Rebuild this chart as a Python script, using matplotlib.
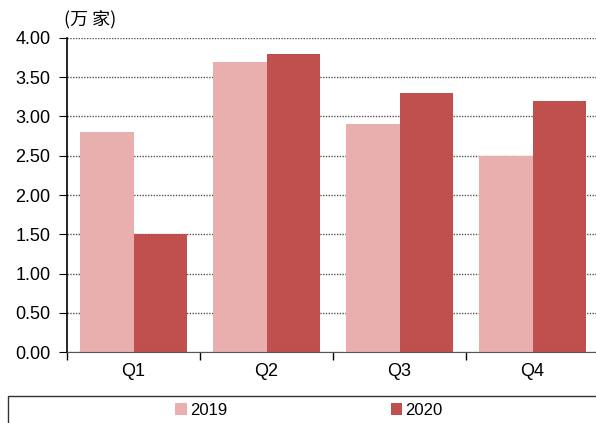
import matplotlib.pyplot as plt
import matplotlib.patches as mpatches
import numpy as np

quarters = ["Q1", "Q2", "Q3", "Q4"]
series_names = ["2019", "2020"]
values_2019 = [2.80, 3.70, 2.90, 2.50]
values_2020 = [1.50, 3.80, 3.30, 3.20]
y_ticks = [0.0, 0.5, 1.0, 1.5, 2.0, 2.5, 3.0, 3.5, 4.0]

plt.rcParams['font.family'] = ['Liberation Sans Narrow', 'Liberation Sans', 'DejaVu Sans']

fig = plt.figure(figsize=(5.96, 4.23), dpi=100)
ax = fig.add_axes([67 / 596, 1 - 352 / 423, 532 / 596, 314 / 423])

x = np.arange(len(quarters))
w = 0.4
ax.bar(x - w / 2, values_2019, w, color="#E8AFAE", label=series_names[0], zorder=2)
ax.bar(x + w / 2, values_2020, w, color="#C0504D", label=series_names[1], zorder=2)

ax.set_xlim(-0.5, len(quarters) - 0.5)
ax.set_ylim(0, 4)
ax.set_yticks(y_ticks)
ax.set_yticklabels([f"{v:.2f}" for v in y_ticks])
ax.yaxis.grid(True, linestyle=(0, (1, 1)), color="#555555", linewidth=1.0, zorder=0)
ax.set_axisbelow(True)

# category boundaries carry the ticks, labels sit in the middle
ax.set_xticks(np.arange(-0.5, len(quarters), 1.0))
ax.set_xticklabels([])
ax.set_xticks(x, minor=True)
ax.set_xticklabels(quarters, minor=True)
ax.tick_params(axis="x", which="minor", length=0, labelsize=13, pad=8)
ax.tick_params(axis="x", which="major", length=6, direction="out", width=1)
ax.tick_params(axis="y", length=6, direction="out", labelsize=13, pad=6)

for side in ["top", "right"]:
    ax.spines[side].set_visible(False)
ax.spines["left"].set_linewidth(1.2)
ax.spines["bottom"].set_color("#555555")

fig.text(64 / 596, 1 - 20 / 423, "(万 家)", fontsize=13,
         family=['Noto Sans CJK SC', 'DejaVu Sans'], va="center", ha="left")

# legend box across the bottom
fig.patches.append(mpatches.Rectangle((8 / 596, -0.02), 1.0, 1 - 396 / 423 + 0.02,
                                      transform=fig.transFigure, fill=False,
                                      edgecolor="#333333", linewidth=1.0))
fig.legend(loc="center left", bbox_to_anchor=(160 / 596, 1 - 410 / 423), ncol=2,
           frameon=False, fontsize=12, handlelength=0.7, handleheight=0.7,
           handletextpad=0.2, columnspacing=9.8)

fig.savefig("out.png", dpi=100)
